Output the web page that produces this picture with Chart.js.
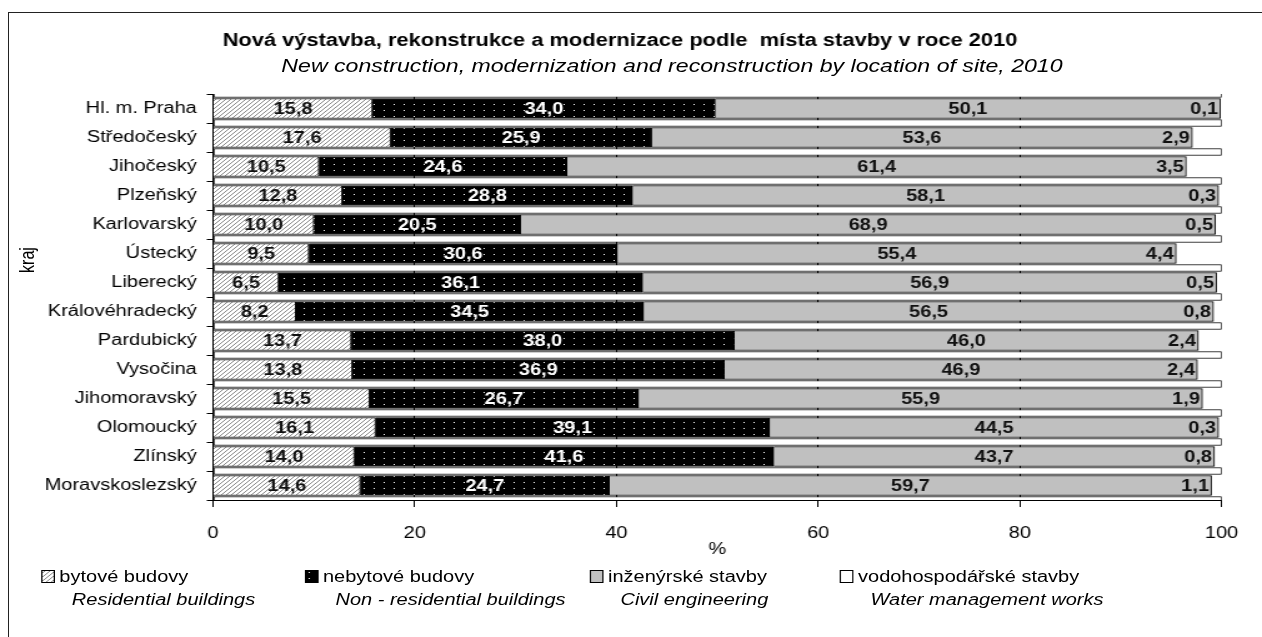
<!DOCTYPE html>
<html>
<head>
<meta charset="utf-8">
<script src="https://cdn.jsdelivr.net/npm/chart.js@4.4.1/dist/chart.umd.min.js"></script>
<style>
  html, body { margin: 0; padding: 0; background: #fff; overflow: hidden; width: 1262px; height: 637px; }
  #frame { position: absolute; left: 8px; top: 12px; width: 1300px; height: 700px; border: 1px solid #222; }
  /* the source picture is stretched sideways, so the whole chart is drawn narrower and scaled */
  #wrap { position: absolute; left: 0; top: 0; width: 1010px; height: 637px; transform: scaleX(1.2495); transform-origin: 0 0; }
  #c { position: absolute; left: 0; top: 0; }
  .txt { position: absolute; font-family: "Liberation Sans", Arial, sans-serif; font-size: 16px; line-height: 18px; color: #000; white-space: nowrap; }
  .en { font-style: italic; }
  .sw { position: absolute; }
  #sub { position: absolute; left: 32.8px; top: 55px; width: 1010px; text-align: center; font-family: "Liberation Sans", Arial, sans-serif;
         font-size: 18.5px; line-height: 22px; font-style: italic; color: #000; white-space: pre; }
</style>
</head>
<body>
<div id="frame"></div>
<div id="wrap">
  <canvas id="c" width="1010" height="637"></canvas>
  <div id="sub"></div>
</div>
<script>
var regions = ['Hl. m. Praha', 'Středočeský', 'Jihočeský', 'Plzeňský', 'Karlovarský', 'Ústecký', 'Liberecký',
    'Královéhradecký', 'Pardubický', 'Vysočina', 'Jihomoravský', 'Olomoucký', 'Zlínský', 'Moravskoslezský'];
var residential = [15.8, 17.6, 10.5, 12.8, 10.0, 9.5, 6.5, 8.2, 13.7, 13.8, 15.5, 16.1, 14.0, 14.6];
var nonResidential = [34.0, 25.9, 24.6, 28.8, 20.5, 30.6, 36.1, 34.5, 38.0, 36.9, 26.7, 39.1, 41.6, 24.7];
var civil = [50.1, 53.6, 61.4, 58.1, 68.9, 55.4, 56.9, 56.5, 46.0, 46.9, 55.9, 44.5, 43.7, 59.7];
var water = [0.1, 2.9, 3.5, 0.3, 0.5, 4.4, 0.5, 0.8, 2.4, 2.4, 1.9, 0.3, 0.8, 1.1];
// thin white 100 % bars between the regions
var frameValues = [100, 100, 100, 100, 100, 100, 100, 100, 100, 100, 100, 100, 100, 100, 100];
var xTicks = [0, 20, 40, 60, 80, 100];
var seriesCz = ['bytové budovy', 'nebytové budovy', 'inženýrské stavby', 'vodohospodářské stavby'];
var seriesEn = ['Residential buildings', 'Non - residential buildings', 'Civil engineering', 'Water management works'];
var titleCz = 'Nová výstavba, rekonstrukce a modernizace podle  místa stavby v roce 2010';
var titleEn = 'New construction, modernization and reconstruction by location of site, 2010';

var family = '"Liberation Sans", Arial, sans-serif';
Chart.defaults.font.family = family;
Chart.defaults.color = '#000';

var canvas = document.getElementById('c');
var ctx = canvas.getContext('2d');

function hatch(c2) {
    var t = document.createElement('canvas');
    t.width = 4; t.height = 4;
    var g = t.getContext('2d');
    g.fillStyle = '#fff';
    g.fillRect(0, 0, 4, 4);
    g.strokeStyle = '#8a8a8a';
    g.lineWidth = 1;
    g.beginPath();
    g.moveTo(0, 4); g.lineTo(4, 0);
    g.moveTo(-1, 1); g.lineTo(1, -1);
    g.moveTo(3, 5); g.lineTo(5, 3);
    g.stroke();
    return c2.createPattern(t, 'repeat');
}

function dots(c2) {
    var t = document.createElement('canvas');
    t.width = 8; t.height = 6;
    var g = t.getContext('2d');
    g.fillStyle = '#000';
    g.fillRect(0, 0, 8, 6);
    g.fillStyle = '#fff';
    g.fillRect(3, 2, 1, 1);
    return c2.createPattern(t, 'repeat');
}

var fills = [hatch(ctx), dots(ctx), '#c0c0c0', '#fff'];

var valueLabels = {
    id: 'valueLabels',
    afterDatasetsDraw: function(chart) {
        var c = chart.ctx;
        c.save();
        c.font = 'bold 16px ' + family;
        c.textBaseline = 'middle';
        for (var d = 0; d < 4; d++) {
            var meta = chart.getDatasetMeta(d);
            var vals = chart.data.datasets[d].data;
            meta.data.forEach(function(bar, i) {
                var p = bar.getProps(['x', 'y', 'base'], true);
                var txt = vals[i].toFixed(1).replace('.', ',');
                if (d === 3) {
                    c.textAlign = 'right';
                    c.fillStyle = '#111';
                    c.fillText(txt, p.base - 2, p.y + 1);
                } else {
                    c.textAlign = 'center';
                    c.fillStyle = d === 1 ? '#fff' : '#111';
                    c.fillText(txt, (p.x + p.base) / 2, p.y + 1);
                }
            });
        }
        c.restore();
    }
};

var segBorder = { left: 0, right: 1, top: 1, bottom: 1 };

var chart = new Chart(ctx, {
    type: 'bar',
    data: {
        labels: regions,
        datasets: [
            { label: seriesCz[0], data: residential, backgroundColor: fills[0], borderColor: '#000', borderWidth: segBorder, borderSkipped: false },
            { label: seriesCz[1], data: nonResidential, backgroundColor: fills[1], borderColor: '#000', borderWidth: segBorder, borderSkipped: false },
            { label: seriesCz[2], data: civil, backgroundColor: fills[2], borderColor: '#000', borderWidth: segBorder, borderSkipped: false },
            { label: seriesCz[3], data: water, backgroundColor: fills[3], borderWidth: 0 },
            { label: 'frame', data: frameValues, yAxisID: 'y2', backgroundColor: '#fff', borderColor: '#000',
              borderWidth: 1, borderSkipped: false, barThickness: 7, clip: 0 }
        ]
    },
    options: {
        indexAxis: 'y',
        responsive: false,
        animation: false,
        devicePixelRatio: 1,
        // bars are not grouped side by side, each one sits on its own category
        datasets: { bar: { grouped: false, barThickness: 20 } },
        layout: { padding: { left: 0, right: 17.6, top: 0, bottom: 79 } },
        plugins: {
            legend: { display: false },
            tooltip: { enabled: false },
            title: {
                display: true,
                text: titleCz,
                color: '#000',
                font: { size: 17.5, weight: 'bold', lineHeight: 1.2 },
                padding: { top: 31, bottom: 42 }
            }
        },
        scales: {
            x: {
                stacked: true,
                min: 0,
                max: 100,
                afterBuildTicks: function(s) { s.ticks = xTicks.map(function(v) { return { value: v }; }); },
                grid: {
                    color: function(c) { return c.tick && c.tick.value === 100 ? 'rgba(0,0,0,0)' : '#000'; },
                    tickColor: '#000',
                    tickLength: 7,
                    lineWidth: 1
                },
                border: { display: true, color: '#000' },
                ticks: { color: '#000', font: { size: 16, lineHeight: 1 }, padding: 19, maxRotation: 0 },
                title: { display: true, text: '%', color: '#000', font: { size: 16, lineHeight: 1 }, padding: { top: -19, bottom: 0 } }
            },
            y: {
                stacked: true,
                offset: true,
                grid: { offset: true, drawOnChartArea: false, tickLength: 5, color: '#000', tickColor: '#000' },
                border: { display: true, color: '#000' },
                ticks: { color: '#000', font: { size: 16 }, padding: 8, autoSkip: false },
                afterFit: function(s) { s.width = 170.5; }
            },
            y2: {
                type: 'category',
                labels: frameValues.map(function(v, i) { return String(i); }),
                offset: false,
                display: false,
                grid: { offset: false }
            }
        }
    },
    plugins: [valueLabels]
});

// subtitle, axis title and the two-line legend
document.getElementById('sub').textContent = titleEn;

var wrap = document.getElementById('wrap');
var kraj = document.createElement('div');
kraj.className = 'txt';
kraj.textContent = 'kraj';
kraj.style.width = '60px';
kraj.style.textAlign = 'center';
kraj.style.left = (21.6 - 30) + 'px';
kraj.style.top = (260 - 9) + 'px';
kraj.style.transform = 'rotate(-90deg)';
wrap.appendChild(kraj);

var swatchX = [33, 244.1, 472.2, 672.3];
var textX = [47.5, 258.5, 486.6, 686.7];
for (var k = 0; k < 4; k++) {
    var sw = document.createElement('canvas');
    sw.className = 'sw';
    sw.width = 11; sw.height = 13;
    sw.style.left = swatchX[k] + 'px';
    sw.style.top = '570px';
    var g = sw.getContext('2d');
    g.fillStyle = k === 0 ? hatch(g) : (k === 1 ? dots(g) : fills[k]);
    g.fillRect(0, 0, 11, 13);
    g.strokeStyle = '#000';
    g.lineWidth = 1;
    g.strokeRect(0.5, 0.5, 10, 12);
    wrap.appendChild(sw);

    var cz = document.createElement('div');
    cz.className = 'txt';
    cz.textContent = seriesCz[k];
    cz.style.left = textX[k] + 'px';
    cz.style.top = '568px';
    wrap.appendChild(cz);

    var en = document.createElement('div');
    en.className = 'txt en';
    en.textContent = seriesEn[k];
    en.style.left = (textX[k] + 10) + 'px';
    en.style.top = '591px';
    wrap.appendChild(en);
}
</script>
</body>
</html>
